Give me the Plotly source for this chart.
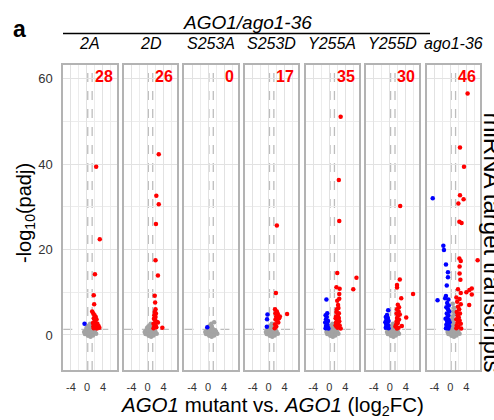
import plotly.graph_objects as go

# ---------------- data ----------------
panel_labels = ["2A", "2D", "S253A", "S253D", "Y255A", "Y255D", "ago1-36"]
count_labels = ["28", "26", "0", "17", "35", "30", "46"]

p1_red_x = [2.3, 3.2, 2.0, 1.7, 1.8, 1.3, 1.6, 1.9, 2.2, 1.7, 2.4, 1.9, 2.1, 1.5, 2.6, 1.8, 2.3, 2.9, 1.6, 2.0, 3.1, 1.7, 2.5]
p1_red_y = [39.4, 22.4, 14.2, 9.3, 7.2, 5.5, 5.0, 4.6, 4.2, 3.9, 3.6, 3.3, 3.0, 2.8, 2.6, 2.4, 2.2, 2.1, 2.0, 1.8, 1.7, 1.6, 1.5]
p1_blue_x = [-0.6]
p1_blue_y = [2.6]

p2_red_x = [2.8, 2.2, 2.8, 2.1, 2.0, 2.6, 1.8, 1.9, 2.0, 1.8, 2.1, 1.7, 2.0, 1.6, 1.9, 2.3, 2.6, 1.5, 2.0, 1.7, 3.7, 2.2, 1.5]
p2_red_y = [42.3, 32.6, 30.6, 26.0, 17.5, 13.9, 9.2, 7.6, 6.0, 5.4, 5.0, 4.6, 4.2, 3.8, 3.4, 3.1, 2.9, 2.6, 2.3, 2.0, 1.7, 1.8, 1.6]
p2_blue_x = []
p2_blue_y = []

p3_red_x = []
p3_red_y = []
p3_blue_x = [-0.2]
p3_blue_y = [1.8]

p4_red_x = [2.05, 1.8, 1.6, 2.05, 2.3, 4.6, 1.9, 2.6, 1.7, 2.2, 1.6, 1.9, 2.4, 1.5, 2.0, 2.8, 1.7]
p4_red_y = [25.6, 9.8, 6.0, 5.5, 4.9, 4.9, 4.4, 3.9, 3.6, 3.2, 2.5, 2.0, 2.9, 1.6, 4.0, 4.3, 5.1]
p4_blue_x = [-0.3, -0.4, -0.45]
p4_blue_y = [4.8, 3.7, 1.9]

p5_red_x = [2.85, 2.4, 2.5, 2.0, 6.8, 6.0, 1.8, 2.6, 2.5, 2.5, 2.2, 1.9, 2.4, 1.8, 2.2, 1.7, 2.4, 1.9, 2.5, 1.7, 2.2, 2.6, 1.8, 2.85, 2.1, 1.6, 2.3, 2.0, 1.6]
p5_red_y = [51.1, 36.3, 26.7, 14.5, 13.4, 10.7, 11.2, 10.8, 9.6, 8.5, 7.0, 6.0, 5.1, 5.4, 4.8, 4.3, 4.0, 3.6, 3.2, 2.9, 2.5, 2.2, 2.0, 1.5, 1.7, 3.9, 6.3, 8.0, 2.3]
p5_blue_x = [-0.7, -0.5, -0.9, -0.6, -0.8, -0.3, -1.0, -0.5, -0.8, -0.4, -0.9, -0.2, -0.6]
p5_blue_y = [8.3, 5.1, 4.6, 4.2, 3.7, 3.3, 2.9, 2.5, 2.1, 1.9, 1.6, 1.5, 3.0]

p6_red_x = [2.6, 2.5, 1.8, 1.8, 5.8, 2.85, 2.0, 2.3, 1.8, 2.2, 1.7, 2.1, 4.1, 1.8, 2.3, 1.7, 2.0, 1.6, 3.0, 1.4, 2.2, 1.8, 2.5, 2.0]
p6_red_y = [30.2, 13.0, 11.7, 11.1, 9.6, 8.6, 7.1, 6.5, 6.0, 5.5, 5.0, 4.6, 4.1, 4.0, 3.6, 3.2, 2.8, 2.5, 2.1, 2.0, 1.7, 1.5, 4.8, 3.4]
p6_blue_x = [-0.4, -0.7, -1.0, -0.5, -0.8, -0.3, -1.1, -0.6, -0.9, -0.4, -0.7, -1.0, -0.3, -0.6, -0.9]
p6_blue_y = [5.8, 4.7, 4.2, 4.0, 3.6, 3.3, 3.0, 2.8, 2.4, 2.2, 1.9, 1.7, 1.6, 3.9, 3.2]

p7_red_x = [4.3, 2.4, 3.4, 2.4, 3.3, 2.0, 2.25, 2.8, 6.8, 2.25, 2.6, 2.3, 2.3, 2.5, 1.9, 5.35, 4.75, 5.35, 2.6, 1.5, 2.3, 1.7, 4.7, 2.6, 1.9, 2.2, 1.6, 2.4, 1.8, 2.1, 1.5, 2.3, 1.8, 2.6, 1.6, 2.0, 1.5, 2.7, 4.0]
p7_red_y = [56.5, 43.9, 39.4, 32.7, 31.8, 30.8, 26.5, 26.2, 17.5, 17.9, 17.3, 16.0, 14.4, 12.9, 10.7, 10.9, 10.5, 9.5, 9.8, 8.8, 8.4, 7.8, 7.0, 7.2, 6.6, 6.0, 5.4, 5.0, 4.6, 4.1, 3.7, 3.4, 3.0, 2.6, 2.3, 1.9, 1.6, 1.5, 10.0]
p7_blue_x = [-4.4, -1.75, -1.6, -1.1, -0.6, -0.6, -0.9, -1.1, -1.3, -3.2, -0.5, -0.8, -0.4, -1.0, -0.6, -0.3, -0.9, -0.5, -0.7, -1.2, -0.4, -0.8, -0.6, -1.0, -0.3, -0.7, -0.5, -1.1, -0.2]
p7_blue_y = [32.0, 20.9, 19.9, 16.5, 14.7, 13.5, 11.6, 9.1, 8.6, 8.1, 8.3, 7.5, 6.9, 6.5, 6.0, 5.5, 5.0, 4.6, 4.2, 3.8, 3.5, 3.1, 2.7, 2.4, 2.1, 1.8, 1.5, 1.6, 3.0]

# non-significant transcripts (shared cluster shape)
gray_x = [-0.5, -0.2, 0.1, 0.4, 0.7, 1.0, 1.3, 1.6, 2.0, 2.3, -0.3, 0.2, 0.6, 0.9, 1.2, 0.5, 0.8, 0.0, 0.3, 0.9, 1.5, -0.7, 0.6, 1.1, 1.8, 0.2, -0.1, 1.4, 0.4, 0.8]
gray_y = [0.2, 0.5, 0.1, 0.8, 0.3, 0.6, 0.2, 0.4, 0.7, 0.3, 1.1, 1.5, 1.2, 1.9, 1.4, 2.2, 2.6, 0.9, -0.2, -0.4, -0.1, 0.7, 0.0, 1.0, 1.1, 2.0, 1.7, 0.9, 0.4, 1.0]
p3_extra_gray_x = [1.5]
p3_extra_gray_y = [3.0]
p7_extra_gray_x = [0.8, 0.6, 0.9, 0.5, 0.7, 1.0, 0.3, 0.6]
p7_extra_gray_y = [5.5, 7.3, 6.4, 4.2, 3.5, 4.8, 2.9, 3.3]

red_x = [p1_red_x, p2_red_x, p3_red_x, p4_red_x, p5_red_x, p6_red_x, p7_red_x]
red_y = [p1_red_y, p2_red_y, p3_red_y, p4_red_y, p5_red_y, p6_red_y, p7_red_y]
blue_x = [p1_blue_x, p2_blue_x, p3_blue_x, p4_blue_x, p5_blue_x, p6_blue_x, p7_blue_x]
blue_y = [p1_blue_y, p2_blue_y, p3_blue_y, p4_blue_y, p5_blue_y, p6_blue_y, p7_blue_y]
extra_gx = [[], [], p3_extra_gray_x, [], [], [], p7_extra_gray_x]
extra_gy = [[], [], p3_extra_gray_y, [], [], [], p7_extra_gray_y]

x_ticks = [-4, 0, 4]
y_ticks = [0, 20, 40, 60]

# ---------------- layout helpers ----------------
W, H = 494, 420
FONT = "Liberation Sans, Arial, sans-serif"
left0, pitch, pw = 63.3, 60.57, 53.3
ptop, pbot = 65, 370
XR = [-5.9, 7.4]
YR = [-8.2, 63.2]

fig = go.Figure()
layout = dict(
    width=W, height=H, margin=dict(l=0, r=0, t=0, b=0),
    paper_bgcolor="white", plot_bgcolor="white", showlegend=False,
    font=dict(family=FONT, color="#000"),
)
shapes, annotations = [], []

for i in range(7):
    sx = "" if i == 0 else str(i + 1)
    xa, ya = "x" + sx, "y" + sx
    x0 = left0 + pitch * i
    xdom = [x0 / W, (x0 + pw) / W]
    ydom = [1 - pbot / H, 1 - ptop / H]
    layout["xaxis" + sx] = dict(
        domain=xdom, anchor=ya, range=XR, tickmode="array", tickvals=x_ticks,
        ticktext=[str(v) for v in x_ticks], showgrid=True, gridcolor="#e2e2e2", gridwidth=1,
        minor=dict(dtick=2, tick0=0, showgrid=True, gridcolor="#ececec", gridwidth=0.8),
        zeroline=False, showline=True, mirror=True, linecolor="#b3b3b3", linewidth=1.8,
        ticks="outside", ticklen=6, tickcolor="rgba(0,0,0,0)",
        tickfont=dict(size=11, color="#333"), fixedrange=True,
    )
    layout["yaxis" + sx] = dict(
        domain=ydom, anchor=xa, range=YR, tickmode="array", tickvals=y_ticks,
        showgrid=True, gridcolor="#e2e2e2", gridwidth=1,
        minor=dict(dtick=10, tick0=0, showgrid=True, gridcolor="#ececec", gridwidth=0.8),
        zeroline=False, showline=True, mirror=True, linecolor="#b3b3b3", linewidth=1.8,
        ticks="outside", ticklen=6, tickcolor="rgba(0,0,0,0)",
        showticklabels=(i == 0), tickfont=dict(size=13, color="#333"), fixedrange=True,
    )
    gx = gray_x + extra_gx[i]
    gy = gray_y + extra_gy[i]
    fig.add_trace(go.Scatter(x=gx, y=gy, mode="markers", xaxis=xa, yaxis=ya,
                             marker=dict(size=4.5, color="#a3a3a3"), hoverinfo="skip"))
    fig.add_trace(go.Scatter(x=blue_x[i], y=blue_y[i], mode="markers", xaxis=xa, yaxis=ya,
                             marker=dict(size=4.5, color="#0000ff"), hoverinfo="skip"))
    fig.add_trace(go.Scatter(x=red_x[i], y=red_y[i], mode="markers", xaxis=xa, yaxis=ya,
                             marker=dict(size=4.5, color="#ff0000"), hoverinfo="skip"))
    for vx in (0.2, 1.3):
        shapes.append(dict(type="line", xref=xa, yref="paper", x0=vx, x1=vx, y0=ydom[0], y1=ydom[1],
                           line=dict(color="#bdbdbd", width=1.3, dash="dash"), layer="below"))
    shapes.append(dict(type="line", xref="paper", yref=ya, x0=xdom[0], x1=xdom[1], y0=1.3, y1=1.3,
                       line=dict(color="#bdbdbd", width=1.3, dash="dash"), layer="below"))
    annotations.append(dict(text="<b>" + count_labels[i] + "</b>", xref="paper", yref="paper",
                            x=(x0 + pw - 2) / W, y=1 - 76 / H, xanchor="right", yanchor="middle",
                            showarrow=False, font=dict(size=16, color="#ff0000")))
    annotations.append(dict(text="<i>" + panel_labels[i] + "</i>", xref="paper", yref="paper",
                            x=(x0 + pw / 2) / W, y=1 - 44 / H, xanchor="center", yanchor="middle",
                            showarrow=False, font=dict(size=16, color="#000")))

# header
annotations.append(dict(text="<i>AGO1/ago1-36</i>", xref="paper", yref="paper", x=247 / W, y=1 - 22 / H,
                        xanchor="center", yanchor="middle", showarrow=False, font=dict(size=19)))
shapes.append(dict(type="line", xref="paper", yref="paper", x0=63 / W, x1=430 / W,
                   y0=1 - 33.5 / H, y1=1 - 33.5 / H, line=dict(color="#000", width=1.3)))
annotations.append(dict(text="<b>a</b>", xref="paper", yref="paper", x=19 / W, y=1 - 29 / H,
                        xanchor="center", yanchor="middle", showarrow=False, font=dict(size=23)))
# axis titles
annotations.append(dict(text="-log<sub>10</sub>(padj)", xref="paper", yref="paper", x=25 / W, y=1 - 213 / H,
                        xanchor="center", yanchor="middle", textangle=-90, showarrow=False, font=dict(size=20)))
annotations.append(dict(text="<i>AGO1</i> mutant vs. <i>AGO1</i> (log<sub>2</sub>FC)", xref="paper", yref="paper",
                        x=272 / W, y=1 - 406 / H, xanchor="center", yanchor="middle", showarrow=False,
                        font=dict(size=20.5)))
annotations.append(dict(text="miRNA target transcripts", xref="paper", yref="paper", x=476 / W, y=1 - 242 / H,
                        xanchor="left", yanchor="middle", textangle=90, showarrow=False, font=dict(size=24)))

layout["shapes"] = shapes
layout["annotations"] = annotations
fig.update_layout(**layout)
fig.write_html("out.html", config={"displayModeBar": False},
               post_script="document.body.style.margin='0';document.body.style.overflow='hidden';")
